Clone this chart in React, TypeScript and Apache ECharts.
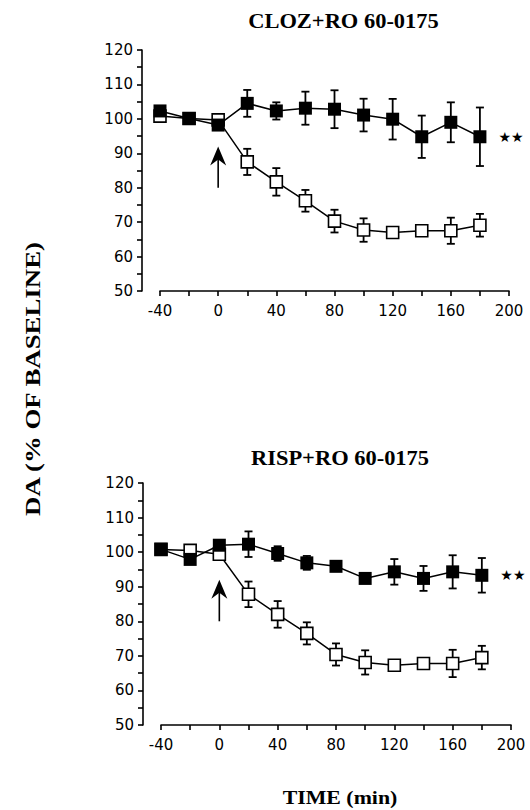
import React, { useEffect, useRef } from "react";
import * as echarts from "echarts";

const times = [-40, -20, 0, 20, 40, 60, 80, 100, 120, 140, 160, 180];

const clozFilled = [102.3, 100.1, 98.2, 104.5, 102.3, 103.1, 102.8, 101.1, 99.9, 94.8, 99.0, 94.8];
const clozFilledErr = [1, 1, 1, 3.9, 2.5, 4.8, 5.5, 4.75, 5.9, 6.15, 5.8, 8.5];
const clozOpen = [100.8, 100.1, 99.7, 87.5, 81.7, 76.2, 70.3, 67.7, 67.0, 67.5, 67.5, 69.1];
const clozOpenErr = [1, 1, 1, 3.8, 4, 3.15, 3.3, 3.4, 1.2, 1.2, 3.8, 3.3];

const rispFilled = [100.8, 97.9, 102.0, 102.3, 99.6, 96.9, 95.9, 92.4, 94.3, 92.4, 94.3, 93.3];
const rispFilledErr = [1, 1, 1, 3.7, 2.1, 2, 1, 1, 3.7, 3.6, 4.8, 5];
const rispOpen = [100.8, 100.5, 99.4, 87.8, 82.0, 76.5, 70.4, 68.1, 67.3, 67.8, 67.8, 69.5];
const rispOpenErr = [1, 1, 1, 3.7, 3.85, 3.2, 3.2, 3.5, 1, 1, 3.95, 3.4];

const titles = ["CLOZ+RO 60-0175", "RISP+RO 60-0175"];
const yAxisTitle = "DA (% OF BASELINE)";
const xAxisTitle = "TIME (min)";
const significance = "★★";
const arrowAt = [0, 80, 92]; // time, from, to

const AXIS_FONT = "DejaVu Sans";
const SERIF = "Liberation Serif";

function pts(vals: number[]) {
  return times.map((t, i) => [t, vals[i]]);
}
function errs(vals: number[], e: number[]) {
  return times.map((t, i) => [t, vals[i] - e[i], vals[i] + e[i]]);
}

const errRender = (params: any, api: any) => {
  const x = api.value(0);
  const lo = api.value(1);
  const hi = api.value(2);
  const top = api.coord([x, hi]);
  const bot = api.coord([x, lo]);
  const w = 4;
  const st = { stroke: "#000", lineWidth: 1.8 };
  return {
    type: "group",
    children: [
      { type: "line", shape: { x1: top[0], y1: top[1], x2: bot[0], y2: bot[1] }, style: st },
      { type: "line", shape: { x1: top[0] - w, y1: top[1], x2: top[0] + w, y2: top[1] }, style: st },
      { type: "line", shape: { x1: bot[0] - w, y1: bot[1], x2: bot[0] + w, y2: bot[1] }, style: st },
    ],
  };
};

const arrowRender = (params: any, api: any) => {
  const x = api.value(0);
  const from = api.coord([x, api.value(1)]);
  const to = api.coord([x, api.value(2)]);
  const cx = to[0];
  const ty = to[1];
  return {
    type: "group",
    children: [
      {
        type: "line",
        shape: { x1: from[0], y1: from[1], x2: cx, y2: ty + 12 },
        style: { stroke: "#000", lineWidth: 1.6 },
      },
      {
        type: "polygon",
        shape: { points: [[cx, ty], [cx - 8, ty + 19], [cx, ty + 13], [cx + 8, ty + 19]] },
        style: { fill: "#000" },
      },
    ],
  };
};

function makeX(gridIndex: number) {
  return {
    type: "value",
    gridIndex,
    min: -40,
    max: 200,
    interval: 40,
    axisLine: { show: true, onZero: false, lineStyle: { color: "#000", width: 1.6 } },
    axisTick: { show: true, length: 5, lineStyle: { color: "#000", width: 1.6 } },
    minorTick: { show: true, splitNumber: 2, length: 5, lineStyle: { color: "#000", width: 1.6 } },
    splitLine: { show: false },
    minorSplitLine: { show: false },
    axisLabel: { color: "#000", fontFamily: AXIS_FONT, fontSize: 15, margin: 12 },
  };
}
function makeY(gridIndex: number) {
  return {
    type: "value",
    gridIndex,
    min: 50,
    max: 120,
    interval: 10,
    offset: 18,
    axisLine: { show: true, onZero: false, lineStyle: { color: "#000", width: 1.6 } },
    axisTick: { show: true, length: 5, lineStyle: { color: "#000", width: 1.6 } },
    minorTick: { show: true, splitNumber: 2, length: 5, lineStyle: { color: "#000", width: 1.6 } },
    splitLine: { show: false },
    minorSplitLine: { show: false },
    axisLabel: { color: "#000", fontFamily: AXIS_FONT, fontSize: 15, margin: 9 },
  };
}

function panelSeries(idx: number, filled: number[], filledErr: number[], open: number[], openErr: number[]) {
  const filledData: any[] = pts(filled);
  const last = filledData.length - 1;
  filledData[last] = {
    value: filledData[last],
    label: {
      show: true,
      position: "right",
      distance: 12,
      formatter: significance,
      fontSize: 14,
      fontFamily: AXIS_FONT,
      color: "#000",
    },
  };
  return [
    {
      type: "custom",
      xAxisIndex: idx,
      yAxisIndex: idx,
      renderItem: errRender,
      data: errs(open, openErr),
      encode: { x: 0, y: [1, 2] },
      z: 1,
      silent: true,
    },
    {
      type: "custom",
      xAxisIndex: idx,
      yAxisIndex: idx,
      renderItem: errRender,
      data: errs(filled, filledErr),
      encode: { x: 0, y: [1, 2] },
      z: 1,
      silent: true,
    },
    {
      type: "line",
      xAxisIndex: idx,
      yAxisIndex: idx,
      data: pts(open),
      symbol: "rect",
      symbolSize: 12,
      lineStyle: { color: "#000", width: 1.5 },
      itemStyle: { color: "#fff", borderColor: "#000", borderWidth: 1.6 },
      z: 2,
    },
    {
      type: "line",
      xAxisIndex: idx,
      yAxisIndex: idx,
      data: filledData,
      symbol: "rect",
      symbolSize: 13,
      lineStyle: { color: "#000", width: 1.5 },
      itemStyle: { color: "#000", borderColor: "#000", borderWidth: 0 },
      z: 3,
    },
    {
      type: "custom",
      xAxisIndex: idx,
      yAxisIndex: idx,
      renderItem: arrowRender,
      data: [arrowAt],
      encode: { x: 0, y: [1, 2] },
      z: 4,
      silent: true,
    },
  ];
}

function serifText(text: string, x: number, y: number, fontSize: number, scaleX: number, rotation = 0) {
  return {
    type: "text",
    x,
    y,
    rotation,
    scaleX,
    style: {
      text,
      fontFamily: SERIF,
      fontWeight: "bold",
      fontSize,
      fill: "#000",
      textAlign: "center",
      textVerticalAlign: "middle",
    },
  };
}

export default function App() {
  const ref = useRef<HTMLDivElement>(null);
  useEffect(() => {
    if (!ref.current) return;
    const chart = echarts.init(ref.current, null, { renderer: "svg" });
    chart.setOption({
      animation: false,
      backgroundColor: "#fff",
      grid: [
        { left: 160, top: 50, width: 349, height: 241 },
        { left: 161, top: 483, width: 350, height: 242 },
      ],
      xAxis: [makeX(0), makeX(1)],
      yAxis: [makeY(0), makeY(1)],
      graphic: [
        serifText(titles[0], 343.5, 21, 21, 1.07),
        serifText(titles[1], 340, 458, 21, 1.07),
        serifText(yAxisTitle, 32, 379, 22, 1.22, Math.PI / 2),
        serifText(xAxisTitle, 340, 798, 19, 1.15),
      ],
      series: [
        ...panelSeries(0, clozFilled, clozFilledErr, clozOpen, clozOpenErr),
        ...panelSeries(1, rispFilled, rispFilledErr, rispOpen, rispOpenErr),
      ],
    });
    return () => chart.dispose();
  }, []);
  return (
    <div
      ref={ref}
      style={{ position: "absolute", left: 0, top: 0, width: 530, height: 810 }}
    />
  );
}
